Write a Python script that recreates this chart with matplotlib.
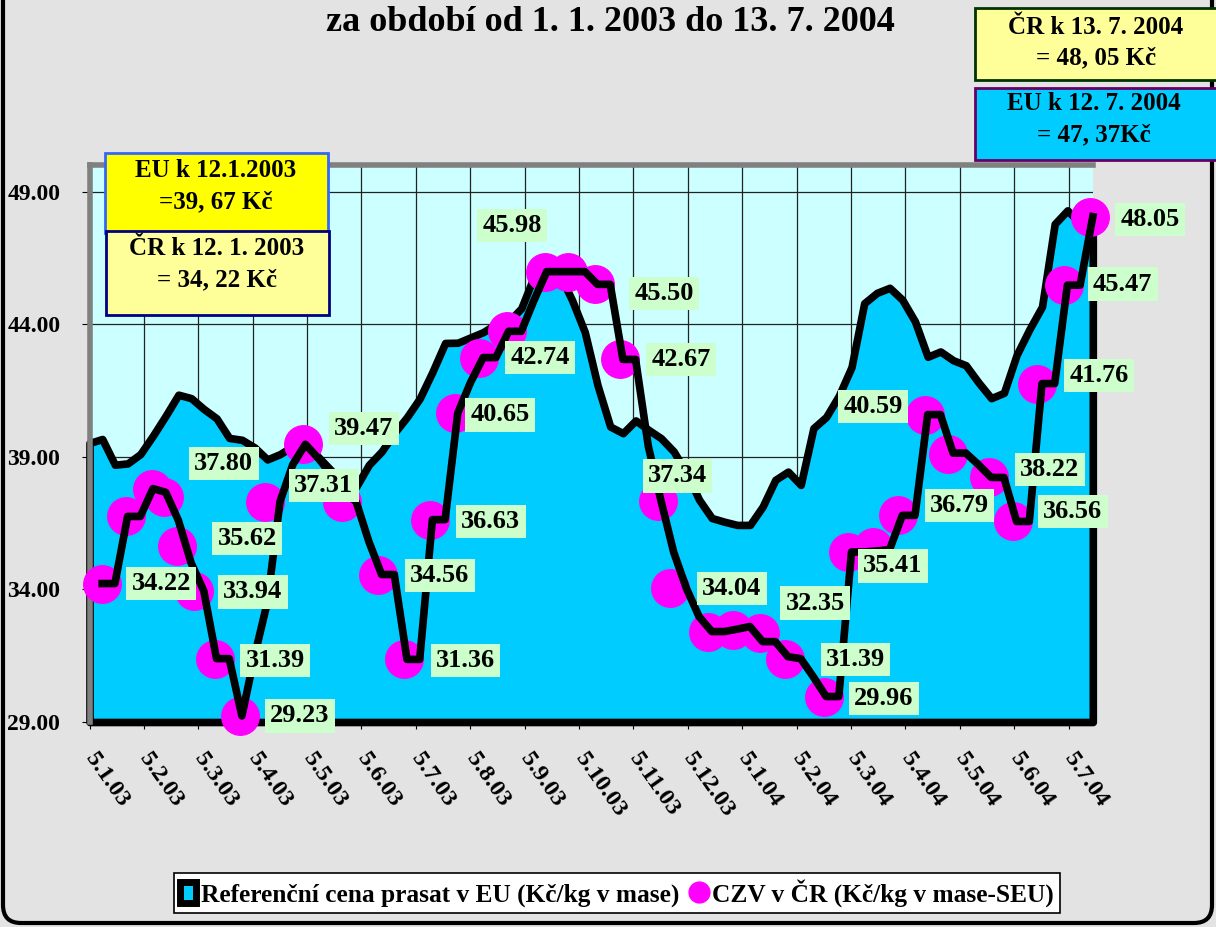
import numpy as np
import matplotlib
matplotlib.use("Agg")
import matplotlib.pyplot as plt
from matplotlib.patches import Rectangle, FancyBboxPatch, Patch
from matplotlib.lines import Line2D
from matplotlib.ticker import FormatStrFormatter

plt.rcParams['font.family'] = ['Liberation Serif', 'DejaVu Serif']
plt.rcParams['font.weight'] = 'bold'

# weekly EU reference price (Kc/kg), week 0 = 5.1.2003
eu_price = [39.52, 39.67, 38.70, 38.75, 39.10, 39.80, 40.55, 41.34, 41.21, 40.80,
            40.45, 39.71, 39.64, 39.35, 38.90, 39.10, 39.40, 39.50, 39.00, 38.50,
            38.00, 37.87, 38.70, 39.20, 39.90, 40.50, 41.20, 42.20, 43.29, 43.30,
            43.50, 43.70, 44.00, 44.10, 44.60, 45.80, 46.05, 45.90, 44.90, 43.70,
            41.70, 40.14, 39.89, 40.37, 40.02, 39.70, 39.20, 38.40, 37.38, 36.69,
            36.55, 36.43, 36.43, 37.12, 38.13, 38.44, 37.94, 40.08, 40.50, 41.30,
            42.38, 44.79, 45.18, 45.37, 44.92, 44.10, 42.77, 42.97, 42.64, 42.45,
            41.80, 41.21, 41.41, 42.84, 43.80, 44.66, 47.78, 48.29, 47.80, 47.37]

# weekly CZV line, first value = week 1 (12.1.2003)
czv_line = [34.22, 34.22, 36.75, 36.75, 37.80, 37.66, 36.60, 35.00, 33.94, 31.39,
            31.39, 29.23, 31.50, 33.50, 37.31, 38.70, 39.47, 38.95, 38.36, 37.70,
            37.30, 35.80, 34.56, 34.56, 31.36, 31.36, 36.63, 36.63, 40.65, 41.80,
            42.74, 42.74, 43.73, 43.73, 44.90, 45.98, 45.98, 45.98, 45.98, 45.50,
            45.50, 42.67, 42.67, 39.40, 37.34, 35.40, 34.04, 32.97, 32.41, 32.41,
            32.50, 32.60, 32.03, 32.03, 31.46, 31.39, 30.70, 29.96, 29.96, 35.41,
            35.41, 35.45, 35.50, 36.79, 36.79, 40.59, 40.59, 39.14, 39.14, 38.70,
            38.22, 38.22, 36.56, 36.56, 41.76, 41.76, 45.47, 45.47, 48.05]

# CZV points shown with markers (week, Kc/kg)
czv_mark_week = [1.0, 2.9, 4.9, 5.9, 6.9, 8.2, 9.9, 11.85, 13.8, 16.8,
                 19.9, 22.7, 24.8, 26.8, 28.8, 30.7, 32.9, 35.9, 37.7, 39.8,
                 41.8, 44.8, 45.7, 48.7, 50.7, 52.8, 54.8, 57.8, 59.7, 61.7,
                 63.7, 65.8, 67.6, 70.8, 72.7, 74.6, 76.7, 78.8]
czv_mark_val = [34.22, 36.75, 37.80, 37.50, 35.62, 33.94, 31.39, 29.23, 37.31, 39.47,
                37.30, 34.56, 31.36, 36.63, 40.65, 42.74, 43.73, 45.98, 45.98, 45.50,
                42.67, 37.34, 34.04, 32.41, 32.45, 32.35, 31.39, 29.96, 35.41, 35.60,
                36.79, 40.59, 39.10, 38.22, 36.56, 41.76, 45.47, 48.05]

month_labels = ["5.1.03", "5.2.03", "5.3.03", "5.4.03", "5.5.03", "5.6.03", "5.7.03",
                "5.8.03", "5.9.03", "5.10.03", "5.11.03", "5.12.03", "5.1.04", "5.2.04",
                "5.3.04", "5.4.04", "5.5.04", "5.6.04", "5.7.04"]

# which markers carry a value label -> label offset in pixels (right, up)
label_offsets = {0: (59, 0), 2: (72, 25), 4: (70, 8), 5: (59, -1), 6: (60, -2),
                 7: (60, 0), 8: (59, 16), 9: (61, 16), 11: (62, -1), 12: (61, -1),
                 13: (61, -2), 14: (45, -2), 15: (61, 0), 17: (-33, 46), 19: (69, -9),
                 20: (61, 0), 21: (19, 25), 22: (62, 0), 25: (55, 30), 26: (70, -1),
                 27: (60, -2), 28: (45, -14), 30: (61, 10), 31: (-52, 8), 33: (61, 8),
                 34: (60, 10), 35: (62, 8), 36: (59, 1), 37: (60, -3)}

y_min, y_max = 29, 50
tick_step = 4.283  # weeks between month labels

W, H = 1216, 927
fig = plt.figure(figsize=(W / 100, H / 100), dpi=100, facecolor='#E3E3E3')

ax = fig.add_axes([89.5 / W, (H - 722) / H, (1092.8 - 89.5) / W, (722 - 165) / H])
ax.set_facecolor('#CCFFFF')

weeks = np.arange(len(eu_price))
czv_weeks = np.arange(1, len(czv_line) + 1)

ax.fill_between(weeks, eu_price, y_min, facecolor='#00CCFF', edgecolor='black',
                linewidth=5.5, zorder=2, clip_on=False)
ax.plot(czv_mark_week, czv_mark_val, 'o', ms=27, mfc='#FF00FF', mec='#FF00FF',
        ls='none', zorder=3, clip_on=False)
ax.plot(czv_weeks, czv_line, color='black', lw=5.5, zorder=4, clip_on=False)

for i, (dx, dy) in label_offsets.items():
    ax.annotate(f"{czv_mark_val[i]:.2f}", xy=(czv_mark_week[i], czv_mark_val[i]),
                xytext=(dx, dy), textcoords='offset pixels', ha='center', va='center',
                fontsize=19, fontweight='bold', zorder=6, annotation_clip=False,
                bbox=dict(boxstyle='square,pad=0.2', fc='#CCFFCC', ec='none'))

ax.set_xlim(0, len(eu_price) - 1)
ax.set_ylim(y_min, y_max)
ax.set_yticks(np.arange(y_min, y_max, 5))
ax.yaxis.set_major_formatter(FormatStrFormatter('%.2f'))
ax.set_xticks(np.arange(len(month_labels)) * tick_step)
ax.set_xticklabels(month_labels, rotation=-55, ha='left', va='center',
                   rotation_mode='anchor')
ax.tick_params(axis='x', length=5, pad=19, labelsize=17.5)
ax.tick_params(axis='y', length=6, pad=15, labelsize=17)
for lab in ax.get_xticklabels() + ax.get_yticklabels():
    lab.set_fontweight('bold')

ax.grid(True, color='#222222', lw=0.9, zorder=0.5)
ax.set_axisbelow(True)
for side in ['top', 'left']:
    ax.spines[side].set_color('#808080')
    ax.spines[side].set_linewidth(4)
for side in ['bottom', 'right']:
    ax.spines[side].set_visible(False)

# overlay for frame, title and note boxes (pixel coordinates)
over = fig.add_axes([0, 0, 1, 1], zorder=5)
over.set_xlim(0, W)
over.set_ylim(H, 0)
over.axis('off')
over.patch.set_visible(False)

over.add_patch(FancyBboxPatch((3, -40), 1209, 963, boxstyle='round,pad=0,rounding_size=18',
                              fill=False, ec='black', lw=3))
over.text(610, 22, "za období od 1. 1. 2003 do 13. 7. 2004", ha='center', va='center',
          fontsize=26, fontweight='bold')

notes = [
    ((975, 8, 245, 72), '#FFFF99', '#003300', ["ČR k 13. 7. 2004", "= 48, 05 Kč"], 1096, (27, 58)),
    ((975, 88, 245, 72), '#00CCFF', '#660066', ["EU k 12. 7. 2004", "= 47, 37Kč"], 1094, (103, 135)),
    ((105, 153, 223, 80), '#FFFF00', '#3366FF', ["EU k 12.1.2003", "=39, 67 Kč"], 216, (170, 202)),
    ((106, 231, 223, 84), '#FFFF99', '#000080', ["ČR k 12. 1. 2003", "= 34, 22 Kč"], 217, (248, 280)),
]
for (x, y, w, h), fc, ec, lines, cx, ys in notes:
    over.add_patch(Rectangle((x, y), w, h, fc=fc, ec=ec, lw=2))
    for txt, ty in zip(lines, ys):
        over.text(cx, ty, txt, ha='center', va='center', fontsize=18, fontweight='bold')

handles = [Patch(facecolor='#00CCFF', edgecolor='black', linewidth=5),
           Line2D([], [], ls='none', marker='o', ms=15, mfc='#FF00FF', mec='#FF00FF')]
leg = fig.legend(handles, ["Referenční cena prasat v EU (Kč/kg v mase)",
                           "CZV v ČR (Kč/kg v mase-SEU)"],
                 loc='center', bbox_to_anchor=(617 / W, 1 - 893 / H), ncol=2,
                 frameon=True, fancybox=False, edgecolor='black', framealpha=1,
                 prop={'weight': 'bold', 'size': 18.3}, handlelength=0.6,
                 handleheight=0.9, handletextpad=0.2, columnspacing=0.5, borderpad=0.25)
leg.get_frame().set_linewidth(1.2)

fig.savefig('out.png', dpi=100, facecolor=fig.get_facecolor())
